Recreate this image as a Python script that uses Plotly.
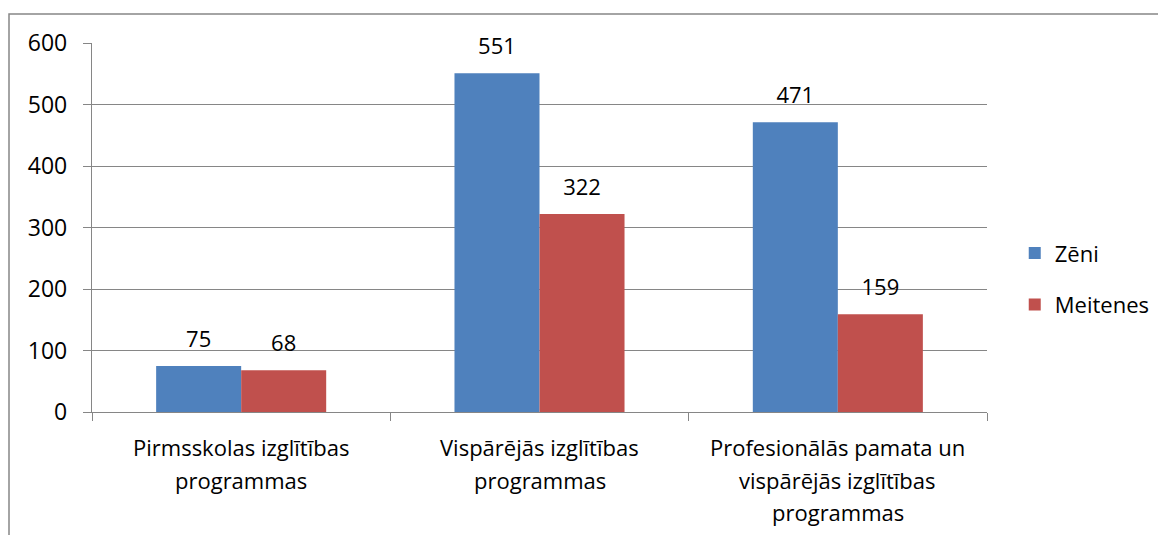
import plotly.graph_objects as go

category_lines = [["Pirmsskolas izglītības", "programmas"],
                  ["Vispārējās izglītības", "programmas"],
                  ["Profesionālās pamata un", "vispārējās izglītības", "programmas"]]
categories = [" ".join(l) for l in category_lines]
series_names = ["Zēni", "Meitenes"]
zeni = [75, 551, 471]
meitenes = [68, 322, 159]
y_ticks = [0, 100, 200, 300, 400, 500, 600]
colors = ["#4F81BD", "#C0504D"]

FONT = "Open Sans, sans-serif"
FS = 23
W, H = 1166, 535
L, T = 84, 35
pw, ph = 895, 369
R = W - L - pw
B = H - T - ph

fig = go.Figure()
for name, vals, col in [(series_names[0], zeni, colors[0]),
                        (series_names[1], meitenes, colors[1])]:
    fig.add_trace(go.Bar(
        x=categories, y=vals, name=name, marker_color=col,
        marker_line_width=0, offsetgroup=name, legendgroup=name))
for name, vals in [(series_names[0], zeni), (series_names[1], meitenes)]:
    fig.add_trace(go.Scatter(
        x=categories, y=vals, mode="markers+text", offsetgroup=name,
        text=[str(v) for v in vals], textposition="top center",
        marker=dict(size=20, opacity=0), cliponaxis=False,
        textfont=dict(size=FS - 1, color="#000000", family=FONT),
        showlegend=False, hoverinfo="skip"))

for cat, lines in zip(categories, category_lines):
    for j, line in enumerate(lines):
        fig.add_annotation(x=cat, xref="x", y=0, yref="paper", text=line,
                           showarrow=False, yanchor="middle",
                           yshift=-(35 + 32.5 * j),
                           font=dict(size=FS - 1, family=FONT, color="#000000"))

fig.add_shape(type="rect", xref="paper", yref="paper",
              x0=(1 - L) / pw, x1=2, y0=-2, y1=(H - B - 6) / ph,
              line=dict(color="#878787", width=1.5), layer="below")

fig.update_layout(
    width=W, height=H, margin=dict(l=L, r=R, t=T, b=B, autoexpand=False),
    paper_bgcolor="white", plot_bgcolor="white",
    barmode="group", bargap=0.43, bargroupgap=0,
    scattermode="group", scattergap=0.43,
    font=dict(family=FONT, size=FS, color="#000000"),
    legend=dict(x=1.031, xanchor="left", xref="paper", y=0.36, yanchor="middle",
                font=dict(size=FS - 1, family=FONT), tracegroupgap=20,
                itemwidth=30, bgcolor="rgba(0,0,0,0)"),
    showlegend=True,
)
fig.update_xaxes(showline=True, linecolor="#868686", linewidth=1.3,
                 ticks="outside", tickson="boundaries", ticklen=8,
                 tickcolor="#868686", tickwidth=1.3, showgrid=False,
                 tickvals=categories, ticktext=["" for _ in categories])
fig.update_yaxes(range=[0, 600], tickvals=y_ticks, showline=True,
                 linecolor="#868686", linewidth=1.3, ticks="outside",
                 ticklen=8, tickcolor="#868686", tickwidth=1.3,
                 showgrid=True, gridcolor="#868686", gridwidth=1.3,
                 zeroline=False, ticklabelstandoff=11,
                 tickfont=dict(size=FS, family=FONT))

fig.write_html("out.html")
